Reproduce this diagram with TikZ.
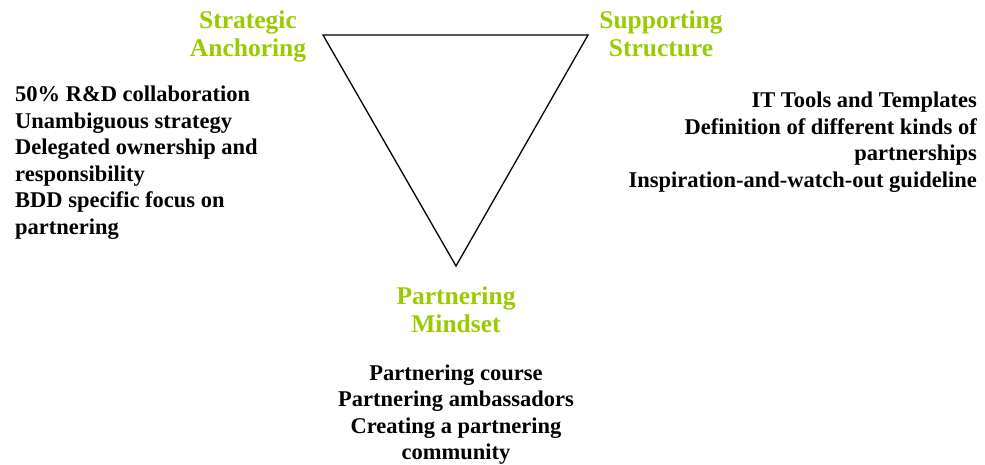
\documentclass[tikz,border=0pt]{standalone}
\usepackage{fontspec}
\setmainfont{Liberation Serif}
\usetikzlibrary{positioning}
\definecolor{verde}{HTML}{99CC00}
\tikzstyle{titulo}=[text=verde, font=\bfseries\fontsize{25.5}{28}\selectfont, align=center, inner sep=0pt]
\tikzstyle{lista}=[text=black, font=\bfseries\fontsize{22.5}{26.5}\selectfont, inner sep=0pt]
\tikzstyle{vertice}=[coordinate]

\begin{document}
\begin{tikzpicture}[x=1pt, y=-1pt]
		\useasboundingbox (0,0) rectangle (985,464);
		\node[vertice] (estrategia) at (323,35) {};
		\node[vertice] (soporte) at (588,35) {};
		\node[vertice] (mentalidad) at (456,266) {};
		\draw[line width=1.3pt, line join=miter] (estrategia) -- (soporte) -- (mentalidad) -- cycle;
		\node[titulo, anchor=north] (anclaje) at (248,11) {Strategic\\Anchoring};
		\node[titulo, anchor=north] (estructura) at (661,11) {Supporting\\Structure};
		\node[titulo, anchor=north] (mindset) at (456,287) {Partnering\\Mindset};
		\node[lista, align=left, anchor=north west] (listaA) at (15,86)
			{50\% R\&D collaboration\\Unambiguous strategy\\Delegated ownership and\\responsibility\\BDD specific focus on\\partnering};
		\node[lista, align=right, anchor=north east] (listaB) at (977,92)
			{IT Tools and Templates\\Definition of different kinds of\\partnerships\\Inspiration-and-watch-out guideline};
		\node[lista, align=center, below=31pt of mindset] (listaC)
			{Partnering course\\Partnering ambassadors\\Creating a partnering\\community};
	\end{tikzpicture}
\end{document}
